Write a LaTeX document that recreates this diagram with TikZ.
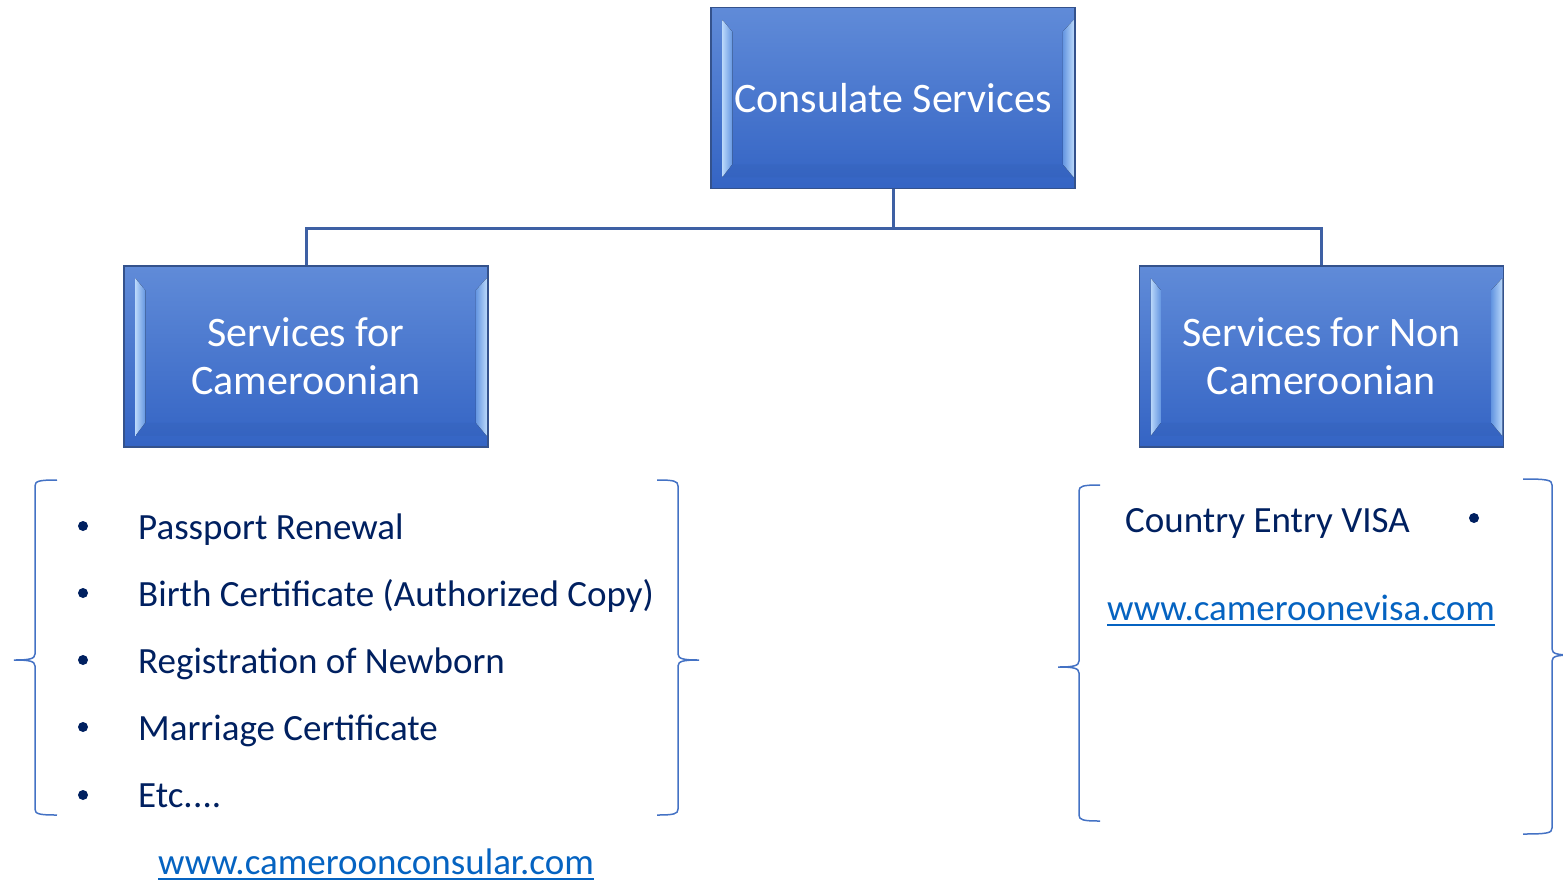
\documentclass[tikz,border=0pt]{standalone}
\usepackage{fontspec}
\setmainfont{Carlito}
\usetikzlibrary{calc}
\definecolor{navy}{RGB}{0,32,96}
\definecolor{linkblue}{RGB}{5,99,193}
\definecolor{bracecol}{RGB}{68,114,196}
\definecolor{conncol}{RGB}{62,96,164}
\definecolor{boxborder}{RGB}{52,82,140}
\definecolor{boxtop}{RGB}{96,139,216}
\definecolor{boxbot}{RGB}{52,100,196}
\definecolor{bevlight}{RGB}{185,215,250}
\definecolor{bevmid}{RGB}{100,150,225}
\newcommand\bracepath[6]{%
  \draw[brace] ({#1+#2*#6},#3) .. controls ({#1+#2*4},#3) and (#1,{#3+1}) .. (#1,{#3+6})
    -- (#1,{#4-6}) .. controls (#1,{#4-1}) and ({#1-#2*6},#4) .. ({#1-#2*21},#4)
    .. controls ({#1-#2*6},#4) and (#1,{#4+1}) .. (#1,{#4+6})
    -- (#1,{#5-6}) .. controls (#1,{#5-1}) and ({#1+#2*4},#5) .. ({#1+#2*#6},#5);}
\newcommand\bevels[1]{%
  \fill[left color=bevlight,right color=bevmid]
    ($(#1.north west)+(12,13)$) -- ($(#1.north west)+(22,25)$) --
    ($(#1.south west)+(22,-25)$) -- ($(#1.south west)+(12,-12)$) -- cycle;
  \fill[right color=bevlight,left color=bevmid]
    ($(#1.north east)+(-2,13)$) -- ($(#1.north east)+(-13,25)$) --
    ($(#1.south east)+(-13,-25)$) -- ($(#1.south east)+(-2,-12)$) -- cycle;
  \fill[boxbot!85!black,opacity=0.15]
    ($(#1.south west)+(12,-12)$) -- ($(#1.south west)+(22,-25)$) --
    ($(#1.south east)+(-13,-25)$) -- ($(#1.south east)+(-2,-12)$) -- cycle;
}
\tikzset{
  box/.style={draw=boxborder,line width=1.5pt,top color=boxtop,bottom color=boxbot,
    minimum width=364pt,minimum height=181pt,inner sep=0pt,text=white,align=center,
    font=\fontsize{42}{48}\selectfont},
  conn/.style={draw=conncol,line width=3pt},
  brace/.style={draw=bracecol,line width=1.5pt},
  item/.style={anchor=base west,inner sep=0pt,text=navy,font=\fontsize{37}{44}\selectfont},
  linktext/.style={anchor=base west,inner sep=0pt,text=linkblue,font=\fontsize{37}{44}\selectfont},
  bul/.style={circle,fill=navy,inner sep=0pt,minimum size=10pt},
  uline/.style={draw=linkblue,line width=2.2pt}
}
\begin{document}
\begin{tikzpicture}[x=1pt,y=-1pt]
\useasboundingbox (0,0) rectangle (1563,881);
\clip (0,0) rectangle (1563,881);
% boxes
\node[box] (top) at (893,98) {Consulate Services};
\node[box] (left) at (306,356.5) {Services for\\Cameroonian};
\node[box] (right) at (1321.5,356.5) {Services for Non\\Cameroonian};
\bevels{top}
\bevels{left}
\bevels{right}
% connectors
\coordinate (j) at (893,228);
\draw[conn] (top.south) -- (j) -| (left.north);
\draw[conn] (j) -| (right.north);
% left list
\node[bul] (b1) at (83,526) {};
\node[bul] (b2) at (83,593) {};
\node[bul] (b3) at (83,660) {};
\node[bul] (b4) at (83,727) {};
\node[bul] (b5) at (83,795) {};
\node[item] (i1) at (138,539) {Passport Renewal};
\node[item] (i2) at (138,606) {Birth Certificate (Authorized Copy)};
\node[item] (i3) at (138,673) {Registration of Newborn};
\node[item] (i4) at (138,740) {Marriage Certificate};
\node[item] (i5) at (138,807) {Etc.\kern0.5pt...};
\node[linktext] (l1) at (158,874) {www.cameroonconsular.com};
\draw[uline] ($(l1.base west)+(0,5)$) -- ($(l1.base east)+(0,5)$);
% right list
\node[item] (r1) at (1125,532) {Country Entry VISA};
\node[bul] (rb1) at (1474,518) {};
\node[linktext] (l2) at (1107,620) {www.cameroonevisa.com};
\draw[uline] ($(l2.base west)+(0,5)$) -- ($(l2.base east)+(0,5)$);
% braces
\bracepath{35}{1}{480}{660}{815}{22}
\bracepath{678}{-1}{480}{660}{815}{21}
\bracepath{1079}{1}{485}{667}{821}{21}
\bracepath{1552}{-1}{479}{655}{834}{29}
\end{tikzpicture}
\end{document}
